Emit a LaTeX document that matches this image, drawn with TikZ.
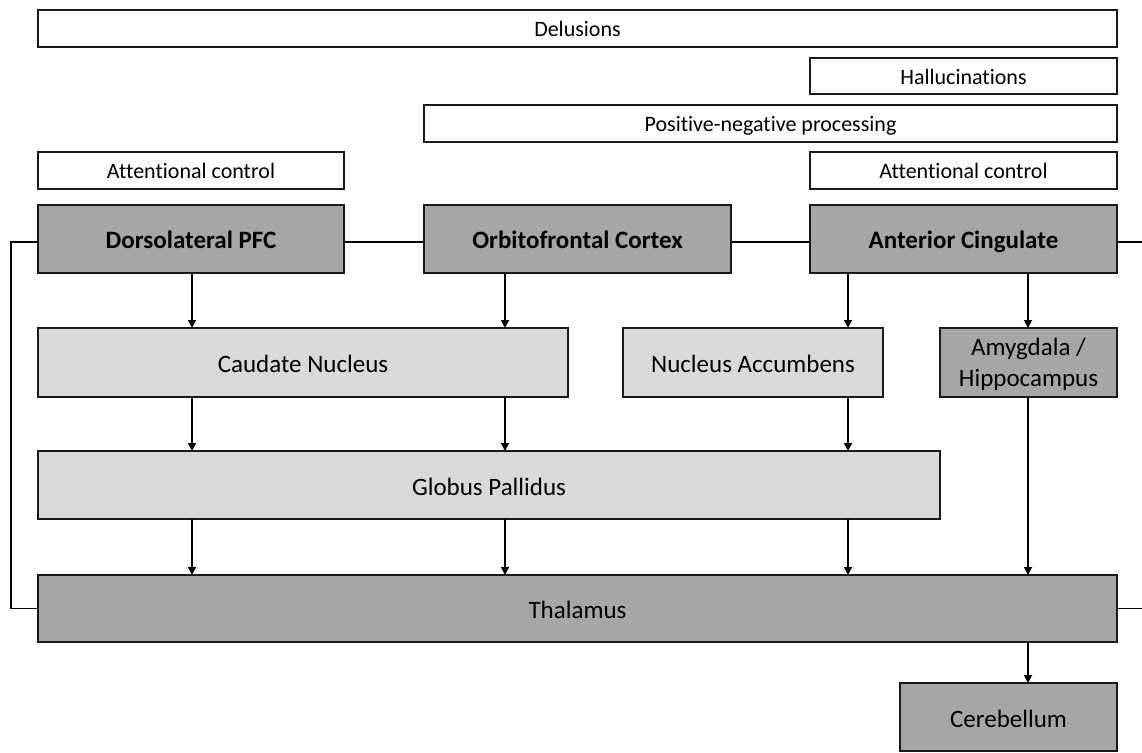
\documentclass[tikz,border=0pt]{standalone}
\usepackage{fontspec}
\setmainfont{Carlito}[Ligatures=NoCommon]
\usetikzlibrary{arrows.meta}
\definecolor{darkbox}{HTML}{A6A6A6}
\definecolor{lightbox}{HTML}{D9D9D9}
\definecolor{edge}{HTML}{1A1A1A}
\begin{document}
\begin{tikzpicture}[x=1pt,y=-1pt,
  base/.style={draw=edge,line width=1.2pt,inner sep=0pt,outer sep=0pt,align=center,text=black},
  thin/.style={base,fill=white,font=\fontsize{22}{26}\selectfont,minimum height=37pt,text height=18pt,text depth=1.6pt},
  head/.style={base,fill=darkbox,font=\bfseries\fontsize{25}{30}\selectfont,minimum height=68pt,text height=20.2pt,text depth=1.6pt},
  lite/.style={base,fill=lightbox,font=\fontsize{25}{30}\selectfont,minimum height=69pt,text height=22pt,text depth=1.6pt},
  dark/.style={base,fill=darkbox,font=\fontsize{25}{31}\selectfont,minimum height=68pt},
  one/.style={text height=22pt,text depth=1.6pt},
  conn/.style={draw=black,line width=1.7pt},
  arr/.style={conn,-{Triangle[length=8pt,width=8pt]}}]
\useasboundingbox (0,0) rectangle (1142,752);
% top label boxes
\node[thin,minimum width=1079pt] (del) at (577.5,28.5) {Delusions};
\node[thin,minimum width=307pt,minimum height=36pt] (hal) at (963.5,76) {Hallucinations};
\node[thin,minimum width=693pt] (pnp) at (770.5,123.5) {Positive-negative processing};
\node[thin,minimum width=306pt] (acl) at (191,170.5) {Attentional control};
\node[thin,minimum width=307pt] (acr) at (963.5,170.5) {Attentional control};
% cortical boxes
\node[head,minimum width=306pt] (dl) at (191,239) {Dorsolateral PFC};
\node[head,minimum width=307pt] (of) at (577.5,239) {Orbitofrontal Cortex};
\node[head,minimum width=307pt] (ac) at (963.5,239) {Anterior Cingulate};
% second row
\node[lite,minimum width=530pt] (cn) at (303,362.5) {Caudate Nucleus};
\node[lite,minimum width=260pt] (na) at (753,362.5) {Nucleus Accumbens};
\node[dark,minimum width=177pt,minimum height=69pt] (am) at (1028.5,362.5) {};
\node[font=\fontsize{25}{31}\selectfont,align=center,inner sep=0pt] (amt) at ([yshift=-2pt]am.center) {Amygdala /\\Hippocampus};
% globus pallidus
\node[lite,minimum width=902pt,minimum height=68pt] (gp) at (489,485) {Globus Pallidus};
% thalamus
\node[dark,one,minimum width=1079pt,minimum height=67pt] (th) at (577.5,608.5) {Thalamus};
% cerebellum
\node[dark,one,minimum width=217pt,minimum height=68pt] (ce) at (1008.5,717) {Cerebellum};
% helper coordinates
\coordinate (x192) at (192,0);
\coordinate (x505) at (505,0);
\coordinate (x848) at (848,0);
\coordinate (x1028) at (1028,0);
\coordinate (xl) at (11,0);
\coordinate (xr) at (1142,0);
\coordinate (dlW) at ([yshift=-3pt]dl.west);
\coordinate (dlE) at ([yshift=-3pt]dl.east);
\coordinate (ofW) at ([yshift=-3pt]of.west);
\coordinate (ofE) at ([yshift=-3pt]of.east);
\coordinate (acW) at ([yshift=-3pt]ac.west);
\coordinate (acE) at ([yshift=-3pt]ac.east);
% horizontal links
\draw[conn] (dlE) -- (ofW);
\draw[conn] (ofE) -- (acW);
\draw[conn] (acE) -- (xr |- acE);
\draw[conn] (th.east) -- (xr |- th.east);
\draw[conn] (dlW) -- (xl |- dlW) -- (xl |- th.west) -- (th.west);
% arrows row 1
\draw[arr] (x192 |- dl.south) -- (x192 |- cn.north);
\draw[arr] (x505 |- of.south) -- (x505 |- cn.north);
\draw[arr] (x848 |- ac.south) -- (x848 |- na.north);
\draw[arr] (x1028 |- ac.south) -- (x1028 |- am.north);
% arrows row 2
\draw[arr] (x192 |- cn.south) -- (x192 |- gp.north);
\draw[arr] (x505 |- cn.south) -- (x505 |- gp.north);
\draw[arr] (x848 |- na.south) -- (x848 |- gp.north);
% arrows row 3
\draw[arr] (x192 |- gp.south) -- (x192 |- th.north);
\draw[arr] (x505 |- gp.south) -- (x505 |- th.north);
\draw[arr] (x848 |- gp.south) -- (x848 |- th.north);
\draw[arr] (x1028 |- am.south) -- (x1028 |- th.north);
% to cerebellum
\draw[arr] (x1028 |- th.south) -- (x1028 |- ce.north);
\end{tikzpicture}
\end{document}
